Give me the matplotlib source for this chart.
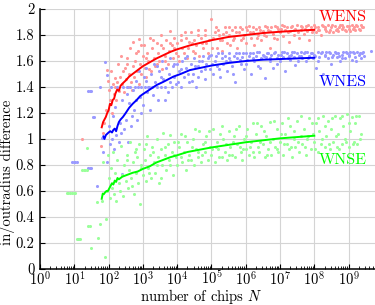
"""
inradius_plot.py
----------------
In/outradius difference against the number of chips N for the three
toppling orders (WENS, WNES, WNSE). Light dots are single runs, the
solid lines are the running means.
"""

import numpy as np
import matplotlib
matplotlib.use("Agg")
import matplotlib.pyplot as plt
from matplotlib.ticker import FixedLocator, FuncFormatter, LogLocator, NullFormatter

plt.rcParams["font.family"] = ["cmr10", "DejaVu Serif"]
plt.rcParams["mathtext.fontset"] = "cm"
plt.rcParams["axes.formatter.use_mathtext"] = True

# ---- single runs, (log10 N, difference) ---------------------------------
wens_runs = [
    (1.22, 1.00), (1.78, 0.95), (1.85, 1.05), (1.88, 1.12), (1.92, 1.22), (1.95, 1.53),
    (1.98, 1.45), (2.02, 1.38), (2.05, 1.30), (2.08, 1.52), (2.10, 1.20), (2.12, 1.42),
    (2.15, 1.35), (2.18, 1.47), (2.20, 1.40), (2.22, 1.30), (2.25, 1.44), (2.28, 1.58),
    (2.30, 1.37), (2.33, 1.48), (2.36, 1.64), (2.38, 1.42), (2.42, 1.52), (2.45, 1.36),
    (2.48, 1.55), (2.50, 1.46), (2.53, 1.62), (2.56, 1.40), (2.60, 1.50), (2.63, 1.70),
    (2.66, 1.44), (2.70, 1.56), (2.72, 1.75), (2.75, 1.48), (2.78, 1.60), (2.82, 1.52),
    (2.85, 1.68), (2.88, 1.42), (2.90, 1.77), (2.93, 1.58), (2.96, 1.50), (3.00, 1.64),
    (3.03, 1.72), (3.06, 1.55), (3.10, 1.48), (3.13, 1.66), (3.16, 1.60), (3.20, 1.78),
    (3.24, 1.52), (3.28, 1.70), (3.32, 1.62), (3.36, 1.56), (3.40, 1.74), (3.44, 1.66),
    (3.48, 1.60), (3.52, 1.80), (3.56, 1.54), (3.60, 1.70), (3.64, 1.64), (3.68, 1.76),
    (3.72, 1.58), (3.76, 1.68), (3.80, 1.83), (3.84, 1.72), (3.88, 1.62), (3.92, 1.78),
    (3.96, 1.66), (4.00, 1.74), (4.05, 1.60), (4.10, 1.80), (4.15, 1.70), (4.20, 1.66),
    (4.25, 1.78), (4.30, 1.62), (4.35, 1.75), (4.40, 1.82), (4.45, 1.68), (4.50, 1.76),
    (4.55, 1.72), (4.60, 1.84), (4.65, 1.64), (4.70, 1.78), (4.75, 1.70), (4.80, 1.80),
    (4.85, 1.74), (4.90, 1.66), (5.00, 1.92), (5.05, 1.78), (5.10, 1.82), (5.15, 1.70),
    (5.20, 1.84), (5.25, 1.76), (5.30, 1.68), (5.35, 1.81), (5.40, 1.86), (5.45, 1.74),
    (5.50, 1.80), (5.55, 1.72), (5.60, 1.84), (5.65, 1.78), (5.70, 1.86), (5.75, 1.70),
    (5.80, 1.82), (5.85, 1.76), (5.90, 1.85), (5.95, 1.80), (6.00, 1.74), (6.05, 1.84),
    (6.10, 1.87), (6.15, 1.78), (6.20, 1.82), (6.25, 1.72), (6.30, 1.85), (6.35, 1.80),
    (6.40, 1.86), (6.45, 1.76), (6.50, 1.83), (6.55, 1.87), (6.60, 1.79), (6.65, 1.84),
    (6.70, 1.70), (6.75, 1.86), (6.80, 1.81), (6.85, 1.87), (6.90, 1.77), (6.95, 1.85),
    (7.00, 1.82), (7.05, 1.88), (7.10, 1.79), (7.15, 1.84), (7.20, 1.86), (7.25, 1.75),
    (7.30, 1.83), (7.35, 1.87), (7.40, 1.80), (7.45, 1.85), (7.50, 1.88), (7.55, 1.78),
    (7.60, 1.84), (7.65, 1.86), (7.70, 1.81), (7.75, 1.87), (7.80, 1.83), (7.85, 1.76),
    (7.90, 1.86), (7.95, 1.84), (8.00, 1.88), (8.05, 1.82), (8.10, 1.86), (8.15, 1.84),
    (8.20, 1.80), (8.25, 1.87), (8.30, 1.85), (8.35, 1.83), (8.40, 1.88), (8.45, 1.84),
    (8.50, 1.86), (8.55, 1.82), (8.60, 1.87), (8.65, 1.85), (8.70, 1.83), (8.75, 1.88),
    (8.80, 1.85), (8.85, 1.86), (8.90, 1.84), (8.95, 1.87), (9.00, 1.85), (9.05, 1.83),
    (9.10, 1.88), (9.15, 1.86), (9.20, 1.84), (9.25, 1.87), (9.30, 1.85), (9.35, 1.88),
    (9.40, 1.86),
    (2.54, 1.58), (2.68, 1.38), (2.80, 1.66), (2.95, 1.72), (3.08, 1.62), (3.18, 1.54),
    (3.30, 1.76), (3.42, 1.58), (3.54, 1.72), (3.66, 1.60), (3.78, 1.74), (3.90, 1.70),
    (4.02, 1.64), (4.12, 1.76), (4.22, 1.82), (4.32, 1.70), (4.42, 1.74), (4.52, 1.66),
    (4.62, 1.80), (4.72, 1.74), (4.82, 1.84), (4.92, 1.76), (5.02, 1.70), (5.12, 1.86),
    (5.22, 1.80), (5.32, 1.76), (5.42, 1.82), (5.52, 1.86), (5.62, 1.76), (5.72, 1.82),
    (5.82, 1.86), (5.92, 1.78), (6.02, 1.86), (6.12, 1.82), (6.22, 1.86), (6.32, 1.78),
    (6.42, 1.84), (6.52, 1.80), (6.62, 1.86), (6.72, 1.83), (6.82, 1.78), (6.92, 1.86),
    (7.02, 1.85), (7.12, 1.87), (7.22, 1.82), (7.32, 1.86), (7.42, 1.84), (7.52, 1.82),
    (7.62, 1.87), (7.72, 1.85), (7.82, 1.88), (7.92, 1.82), (8.02, 1.86), (8.12, 1.84),
    (8.22, 1.88), (8.32, 1.86), (8.42, 1.82), (8.52, 1.88), (8.62, 1.84), (8.72, 1.86),
    (8.82, 1.88), (8.92, 1.83), (9.02, 1.87), (9.12, 1.85), (9.22, 1.88), (9.32, 1.84),
    (9.42, 1.86),
]

wnes_runs = [
    (0.93, 0.82), (0.98, 0.82), (1.03, 0.82), (1.08, 0.82), (1.12, 0.23), (1.40, 0.78),
    (1.45, 0.78), (1.50, 0.78), (1.40, 1.37), (1.45, 1.37), (1.50, 1.37), (1.55, 1.17),
    (1.58, 1.17), (1.65, 0.64), (1.75, 1.40), (1.80, 1.01), (1.85, 0.90), (1.90, 1.59),
    (1.95, 0.82), (1.95, 1.49), (2.00, 1.10), (2.03, 0.96), (2.06, 1.40), (2.10, 1.00),
    (2.13, 1.18), (2.16, 0.92), (2.20, 1.25), (2.23, 1.03), (2.26, 1.40), (2.30, 0.98),
    (2.33, 1.12), (2.36, 1.05), (2.38, 0.73), (2.40, 1.30), (2.43, 1.40), (2.46, 1.08),
    (2.50, 1.15), (2.53, 1.40), (2.56, 0.98), (2.60, 1.28), (2.63, 1.40), (2.66, 1.10),
    (2.70, 1.38), (2.73, 1.22), (2.76, 1.40), (2.80, 1.45), (2.83, 1.15), (2.86, 1.40),
    (2.90, 1.52), (2.93, 1.32), (2.96, 1.40), (3.00, 1.26), (3.03, 1.48), (3.06, 1.40),
    (3.10, 1.55), (3.13, 1.36), (3.16, 1.40), (3.20, 1.22), (3.24, 1.50), (3.28, 1.40),
    (3.32, 1.58), (3.36, 1.44), (3.40, 1.40), (3.44, 1.30), (3.48, 1.52), (3.52, 1.40),
    (3.56, 1.60), (3.60, 1.46), (3.64, 1.40), (3.68, 1.55), (3.72, 1.36), (3.76, 1.50),
    (3.80, 1.62), (3.84, 1.40), (3.88, 1.56), (3.92, 1.48), (3.96, 1.42), (4.00, 1.58),
    (4.05, 1.52), (4.10, 1.40), (4.15, 1.60), (4.20, 1.48), (4.25, 1.55), (4.30, 1.64),
    (4.35, 1.44), (4.40, 1.58), (4.45, 1.50), (4.50, 1.62), (4.55, 1.40), (4.60, 1.56),
    (4.65, 1.60), (4.70, 1.52), (4.75, 1.64), (4.80, 1.46), (4.85, 1.58), (4.90, 1.62),
    (4.95, 1.54), (5.00, 1.65), (5.05, 1.50), (5.10, 1.60), (5.15, 1.56), (5.20, 1.66),
    (5.25, 1.48), (5.30, 1.62), (5.35, 1.58), (5.40, 1.64), (5.45, 1.52), (5.50, 1.66),
    (5.55, 1.60), (5.60, 1.56), (5.65, 1.64), (5.70, 1.44), (5.75, 1.62), (5.80, 1.66),
    (5.85, 1.58), (5.90, 1.63), (5.95, 1.54), (6.00, 1.66), (6.05, 1.61), (6.10, 1.64),
    (6.15, 1.50), (6.20, 1.66), (6.25, 1.60), (6.30, 1.64), (6.35, 1.56), (6.40, 1.67),
    (6.45, 1.62), (6.50, 1.65), (6.55, 1.47), (6.60, 1.63), (6.65, 1.66), (6.70, 1.60),
    (6.75, 1.65), (6.80, 1.55), (6.85, 1.67), (6.90, 1.62), (6.95, 1.65), (7.00, 1.60),
    (7.05, 1.67), (7.10, 1.63), (7.15, 1.52), (7.20, 1.66), (7.25, 1.64), (7.30, 1.61),
    (7.35, 1.67), (7.40, 1.63), (7.45, 1.57), (7.50, 1.66), (7.55, 1.64), (7.60, 1.67),
    (7.65, 1.62), (7.70, 1.66), (7.75, 1.60), (7.80, 1.67), (7.85, 1.64), (7.90, 1.66),
    (7.95, 1.62), (8.00, 1.65), (8.05, 1.55), (8.10, 1.67), (8.15, 1.63), (8.20, 1.66),
    (8.25, 1.50), (8.30, 1.64), (8.35, 1.67), (8.40, 1.62), (8.45, 1.66), (8.50, 1.58),
    (8.55, 1.65), (8.60, 1.67), (8.65, 1.63), (8.70, 1.66), (8.75, 1.60), (8.80, 1.65),
    (8.85, 1.67), (8.90, 1.62), (8.95, 1.66), (9.00, 1.64), (9.05, 1.67), (9.10, 1.61),
    (9.15, 1.66), (9.20, 1.63), (9.25, 1.67), (9.30, 1.65), (9.35, 1.62), (9.40, 1.66),
    (9.45, 1.64), (9.65, 1.68),
    (2.54, 1.35), (2.68, 1.18), (2.80, 1.30), (2.95, 1.20), (3.08, 1.45), (3.18, 1.40),
    (3.30, 1.34), (3.42, 1.56), (3.54, 1.48), (3.66, 1.30), (3.78, 1.44), (3.90, 1.58),
    (4.02, 1.44), (4.12, 1.54), (4.22, 1.62), (4.32, 1.50), (4.42, 1.45), (4.52, 1.56),
    (4.62, 1.48), (4.72, 1.60), (4.82, 1.54), (4.92, 1.64), (5.02, 1.58), (5.12, 1.64),
    (5.22, 1.54), (5.32, 1.66), (5.42, 1.60), (5.52, 1.62), (5.62, 1.50), (5.72, 1.66),
    (5.82, 1.61), (5.92, 1.66), (6.02, 1.58), (6.12, 1.66), (6.22, 1.62), (6.32, 1.67),
    (6.42, 1.55), (6.52, 1.64), (6.62, 1.66), (6.72, 1.62), (6.82, 1.66), (6.92, 1.58),
    (7.02, 1.65), (7.12, 1.67), (7.22, 1.62), (7.32, 1.65), (7.42, 1.67), (7.52, 1.60),
    (7.62, 1.64), (7.72, 1.67), (7.82, 1.62), (7.92, 1.66), (8.02, 1.64), (8.12, 1.60),
    (8.22, 1.67), (8.32, 1.65), (8.42, 1.67), (8.52, 1.63), (8.62, 1.66), (8.72, 1.64),
    (8.82, 1.62), (8.92, 1.67), (9.02, 1.65), (9.12, 1.67), (9.22, 1.60), (9.32, 1.66),
    (9.42, 1.67),
]

wnse_runs = [
    (0.78, 0.587), (0.83, 0.587), (0.88, 0.587), (0.93, 0.587), (0.98, 0.587), (1.02, 0.587),
    (1.08, 0.233), (1.13, 0.233), (1.17, 0.233), (1.22, 0.76), (1.27, 0.76), (1.32, 0.76),
    (1.37, 0.76), (1.40, 0.333), (1.45, 0.333), (1.50, 0.16), (1.37, 0.93), (1.65, 0.515),
    (1.70, 0.24), (1.75, 0.35), (1.80, 0.52), (1.85, 0.82), (1.90, 0.095), (1.92, 0.385),
    (1.95, 0.60), (1.97, 0.88), (2.00, 0.70), (2.03, 0.55), (2.06, 0.78), (2.10, 0.62),
    (2.13, 0.90), (2.16, 0.58), (2.20, 0.74), (2.23, 0.52), (2.26, 0.84), (2.30, 0.66),
    (2.33, 0.60), (2.36, 0.95), (2.40, 0.72), (2.43, 0.56), (2.46, 0.80), (2.50, 0.68),
    (2.53, 0.88), (2.56, 0.62), (2.60, 0.76), (2.63, 0.98), (2.66, 0.70), (2.70, 0.82),
    (2.73, 0.58), (2.76, 0.90), (2.80, 0.74), (2.83, 0.86), (2.86, 0.66), (2.90, 0.96),
    (2.93, 0.50), (2.96, 0.80), (3.00, 0.72), (3.03, 0.92), (3.06, 0.84), (3.10, 0.68),
    (3.13, 1.02), (3.16, 0.78), (3.20, 0.88), (3.24, 0.70), (3.28, 0.94), (3.32, 0.82),
    (3.36, 0.74), (3.40, 1.00), (3.44, 0.86), (3.48, 0.66), (3.52, 0.92), (3.56, 0.80),
    (3.60, 1.05), (3.64, 0.88), (3.68, 0.76), (3.72, 0.96), (3.76, 0.84), (3.80, 1.03),
    (3.84, 0.90), (3.88, 0.72), (3.92, 0.98), (3.96, 0.86), (4.00, 0.80), (4.05, 0.94),
    (4.10, 1.04), (4.15, 0.82), (4.20, 0.90), (4.25, 0.76), (4.30, 0.98), (4.35, 0.88),
    (4.40, 0.84), (4.45, 1.00), (4.50, 0.80), (4.55, 0.92), (4.60, 0.86), (4.65, 1.06),
    (4.70, 0.82), (4.75, 0.96), (4.80, 0.90), (4.85, 1.02), (4.90, 0.84), (4.95, 0.94),
    (5.00, 0.88), (5.05, 1.08), (5.10, 0.82), (5.15, 0.98), (5.20, 0.92), (5.25, 1.04),
    (5.30, 0.86), (5.35, 1.00), (5.40, 0.90), (5.45, 0.84), (5.50, 1.06), (5.55, 0.94),
    (5.60, 0.88), (5.65, 1.02), (5.70, 0.86), (5.75, 0.96), (5.80, 1.10), (5.85, 0.90),
    (5.90, 0.84), (5.95, 1.00), (6.00, 0.92), (6.05, 1.08), (6.10, 0.88), (6.15, 0.98),
    (6.20, 1.12), (6.25, 0.86), (6.30, 1.04), (6.35, 0.94), (6.40, 0.90), (6.45, 1.10),
    (6.50, 0.96), (6.55, 0.86), (6.60, 1.02), (6.65, 0.92), (6.70, 1.13), (6.75, 0.88),
    (6.80, 1.00), (6.85, 0.94), (6.90, 1.08), (6.95, 0.90), (7.00, 0.98), (7.05, 1.12),
    (7.10, 0.88), (7.15, 1.04), (7.20, 0.96), (7.25, 0.92), (7.30, 1.10), (7.35, 0.86),
    (7.40, 1.00), (7.45, 0.94), (7.50, 1.14), (7.55, 0.90), (7.60, 1.02), (7.65, 0.96),
    (7.70, 1.08), (7.75, 0.88), (7.80, 1.00), (7.85, 1.16), (7.90, 0.92), (7.95, 1.04),
    (8.00, 0.98), (8.05, 1.12), (8.10, 0.90), (8.15, 1.06), (8.20, 0.96), (8.25, 1.18),
    (8.30, 0.94), (8.35, 1.02), (8.40, 1.14), (8.45, 0.92), (8.50, 1.08), (8.55, 0.98),
    (8.60, 1.18), (8.65, 0.94), (8.70, 1.04), (8.75, 1.16), (8.80, 0.96), (8.85, 1.10),
    (8.90, 1.00), (8.95, 1.19), (9.00, 0.94), (9.05, 1.06), (9.10, 1.17), (9.15, 0.98),
    (9.20, 1.12), (9.25, 0.96), (9.30, 1.18), (9.35, 1.04),
    (2.54, 0.84), (2.68, 0.64), (2.80, 0.92), (2.95, 0.78), (3.08, 0.96), (3.18, 0.74),
    (3.30, 0.90), (3.42, 0.80), (3.54, 0.70), (3.66, 0.94), (3.78, 0.80), (3.90, 0.88),
    (4.02, 0.98), (4.12, 0.86), (4.22, 1.02), (4.32, 0.84), (4.42, 0.94), (4.52, 1.08),
    (4.62, 0.90), (4.72, 0.88), (4.82, 0.98), (4.92, 1.06), (5.02, 0.92), (5.12, 0.94),
    (5.22, 0.86), (5.32, 1.10), (5.42, 0.96), (5.52, 0.88), (5.62, 0.98), (5.72, 1.08),
    (5.82, 0.94), (5.92, 0.92), (6.02, 1.02), (6.12, 0.94), (6.22, 0.90), (6.32, 1.12),
    (6.42, 0.98), (6.52, 1.06), (6.62, 0.88), (6.72, 0.98), (6.82, 1.14), (6.92, 0.92),
    (7.02, 1.04), (7.12, 0.96), (7.22, 1.16), (7.32, 0.94), (7.42, 1.06), (7.52, 0.98),
    (7.62, 1.18), (7.72, 0.94), (7.82, 1.02), (7.92, 1.12), (8.02, 0.92), (8.12, 1.16),
    (8.22, 1.00), (8.32, 1.10), (8.42, 0.96), (8.52, 1.16), (8.62, 1.02), (8.72, 0.92),
    (8.82, 1.18), (8.92, 0.98), (9.02, 1.12), (9.12, 0.96), (9.22, 1.18), (9.32, 1.00),
]

# ---- running means, (log10 N, difference) -------------------------------
wens_mean = [
    (1.80, 1.09), (1.84, 1.13), (1.88, 1.15), (1.92, 1.17), (1.96, 1.20), (2.00, 1.22),
    (2.04, 1.27), (2.08, 1.26), (2.12, 1.30), (2.16, 1.31), (2.20, 1.35), (2.25, 1.38),
    (2.30, 1.37), (2.35, 1.41), (2.42, 1.43), (2.50, 1.45), (2.60, 1.48), (2.70, 1.50),
    (2.80, 1.52), (2.90, 1.54), (3.00, 1.56), (3.20, 1.59), (3.40, 1.62), (3.60, 1.645),
    (3.80, 1.67), (4.00, 1.69), (4.37, 1.72), (5.00, 1.76), (5.50, 1.785), (6.00, 1.80),
    (6.50, 1.815), (7.00, 1.825), (7.50, 1.833), (8.00, 1.84),
]

wnes_mean = [
    (1.85, 1.02), (1.88, 1.00), (1.92, 1.03), (1.96, 1.04), (2.00, 1.05), (2.05, 1.06),
    (2.10, 1.05), (2.14, 1.07), (2.18, 1.08), (2.22, 1.06), (2.26, 1.10), (2.30, 1.13),
    (2.35, 1.15), (2.42, 1.17), (2.50, 1.20), (2.60, 1.24), (2.70, 1.27), (2.82, 1.30),
    (2.92, 1.33), (3.00, 1.345), (3.20, 1.38), (3.40, 1.415), (3.60, 1.44), (3.89, 1.48),
    (4.10, 1.50), (4.37, 1.53), (5.00, 1.565), (5.50, 1.585), (6.00, 1.60), (6.50, 1.61),
    (7.00, 1.615), (7.50, 1.62), (8.00, 1.625),
]

wnse_mean = [
    (1.80, 0.54), (1.83, 0.58), (1.86, 0.575), (1.90, 0.59), (1.94, 0.60), (1.98, 0.60),
    (2.02, 0.62), (2.06, 0.64), (2.10, 0.66), (2.14, 0.65), (2.18, 0.68), (2.22, 0.67),
    (2.26, 0.70), (2.30, 0.69), (2.35, 0.70), (2.40, 0.71), (2.50, 0.72), (2.60, 0.73),
    (2.70, 0.74), (2.85, 0.75), (3.00, 0.77), (3.20, 0.79), (3.40, 0.82), (3.60, 0.84),
    (3.80, 0.86), (4.00, 0.875), (4.30, 0.90), (4.60, 0.915), (5.00, 0.935), (5.50, 0.955),
    (6.00, 0.975), (6.50, 0.99), (7.00, 1.005), (7.50, 1.015), (8.00, 1.025),
]

orders = ["WENS", "WNES", "WNSE"]
run_colors = ["#ff9a9a", "#9a9aff", "#9aff9a"]
line_colors = ["#ff0000", "#0000ff", "#00ff00"]
label_pos = [(10 ** 8.83, 1.94), (10 ** 8.83, 1.44), (10 ** 8.83, 0.835)]

y_ticks = [0, 0.2, 0.4, 0.6, 0.8, 1, 1.2, 1.4, 1.6, 1.8, 2]


def _split(pairs):
    arr = np.array(pairs)
    return 10 ** arr[:, 0], arr[:, 1]


fig = plt.figure(figsize=(3.75, 3.05), dpi=100)
ax = fig.add_axes([40 / 375, 36 / 305, 335 / 375, 260 / 305])
ax.set_xscale("log")

for runs, color in zip([wens_runs, wnes_runs, wnse_runs], run_colors):
    n, d = _split(runs)
    ax.scatter(n, d, s=5, color=color, linewidths=0, zorder=2)

for mean, color in zip([wens_mean, wnes_mean, wnse_mean], line_colors):
    n, d = _split(mean)
    ax.plot(n, d, color=color, lw=1.4, zorder=3)

for name, color, (x, y) in zip(orders, line_colors, label_pos):
    ax.text(x, y, name, color=color, fontsize=11.5, ha="center", va="center", zorder=4)

ax.set_xlim(1, 10 ** 9.77)
ax.set_ylim(0, 2)

ax.xaxis.set_major_locator(FixedLocator([10.0 ** k for k in range(10)]))
ax.xaxis.set_major_formatter(FuncFormatter(lambda v, _: r"$10^{%d}$" % round(np.log10(v))))
ax.xaxis.set_minor_locator(LogLocator(base=10, subs=np.arange(2, 10), numticks=20))
ax.xaxis.set_minor_formatter(NullFormatter())
ax.yaxis.set_major_locator(FixedLocator(y_ticks))
ax.yaxis.set_major_formatter(FuncFormatter(lambda v, _: "%g" % v))

ax.grid(True, which="major", color="#d4d4d4", lw=0.8, zorder=0)
ax.set_axisbelow(True)
for side in ["top", "right"]:
    ax.spines[side].set_visible(False)
for side in ["left", "bottom"]:
    ax.spines[side].set_linewidth(1.1)

ax.tick_params(which="major", direction="in", length=3.5, width=0.8, labelsize=10.5, pad=4)
ax.tick_params(axis="x", which="major", pad=0.5)
ax.tick_params(which="minor", direction="in", length=2, width=0.6)

ax.set_xlabel(r"number of chips $N$", fontsize=10.5)
ax.set_ylabel("in/outradius difference", fontsize=10.5)
ax.xaxis.set_label_coords((201.5 - 40) / 335, (269 - 287) / 260)
ax.yaxis.set_label_coords((15.5 - 40) / 335, (269 - 172) / 260)

fig.savefig("out.png", dpi=100)
